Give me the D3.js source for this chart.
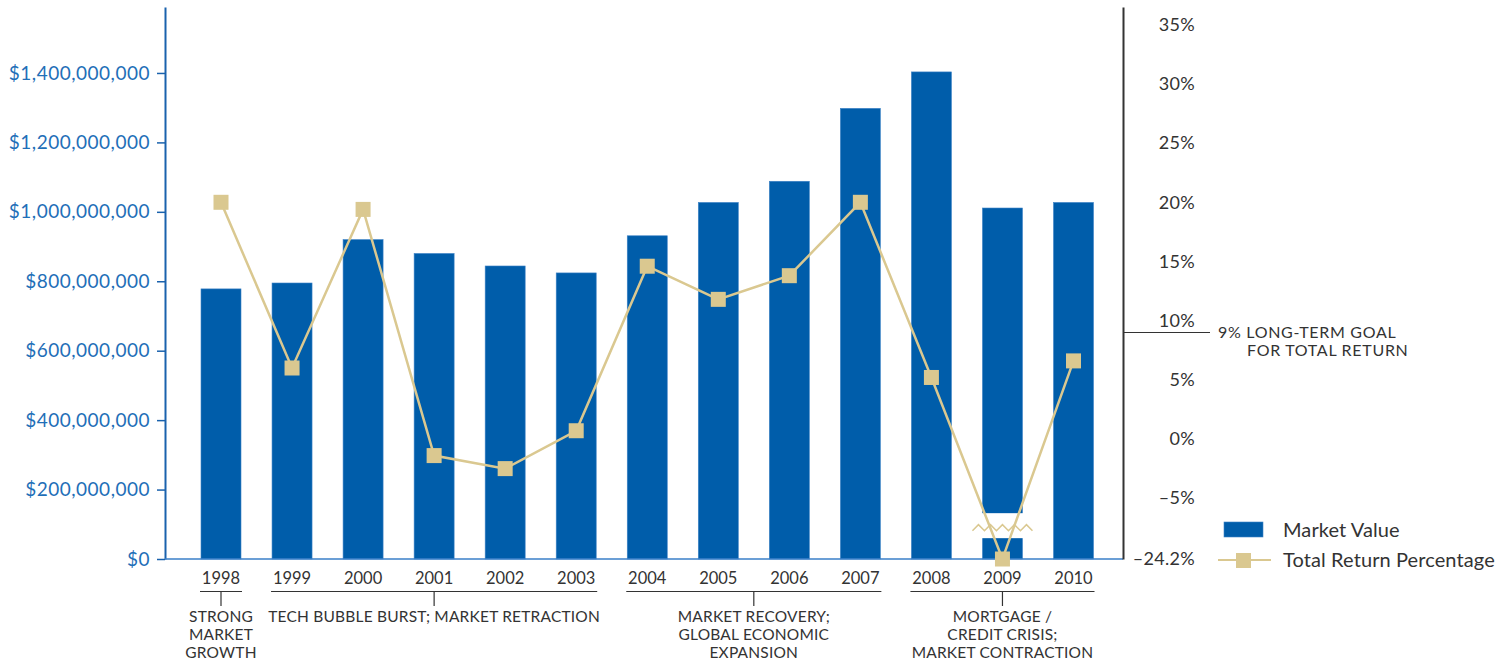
<!DOCTYPE html>
<html>
<head>
<meta charset="utf-8">
<script src="https://cdn.jsdelivr.net/npm/d3@7"></script>
<style>
  body { margin: 0; background: #fff; }
  svg text { font-family: Lato, 'Noto Sans', sans-serif; }
</style>
</head>
<body>
<script>
const years = ['1998', '1999', '2000', '2001', '2002', '2003', '2004', '2005', '2006', '2007', '2008', '2009', '2010'];
const marketValues = [778e6, 795e6, 920e6, 880e6, 844e6, 824e6, 931e6, 1027e6, 1088e6, 1298e6, 1403e6, 1011e6, 1027e6];
const totalReturns = [20.0, 6.0, 19.4, -1.4, -2.5, 0.7, 14.6, 11.8, 13.8, 20.0, 5.2, -24.2, 6.6];

const valueTicks = [0, 200e6, 400e6, 600e6, 800e6, 1000e6, 1200e6, 1400e6];
const returnTicks = [-24.2, -5, 0, 5, 10, 15, 20, 25, 30, 35];
const goalReturn = 9;
const goalLines = ['9% LONG-TERM GOAL', 'FOR TOTAL RETURN'];

// 2009 bar is drawn with a scale break
const breakYear = '2009';
const breakRange = [60e6, 132e6];

const periodFirst = ['1998', '1999', '2004', '2008'];
const periodLast = ['1998', '2003', '2007', '2010'];
const periodNames = [
  ['STRONG', 'MARKET', 'GROWTH'],
  ['TECH BUBBLE BURST; MARKET RETRACTION'],
  ['MARKET RECOVERY;', 'GLOBAL ECONOMIC', 'EXPANSION'],
  ['MORTGAGE /', 'CREDIT CRISIS;', 'MARKET CONTRACTION']
];

const legendNames = ['Market Value', 'Total Return Percentage'];

const width = 1512;
const height = 664;
const plotLeft = 165;
const plotRight = 1123;
const plotTop = 7;
const plotBottom = 559;
const barWidth = 40;

const blue = '#005daa';
const tan = '#dac890';
const ink = '#333333';

const svg = d3.select('body')
  .append('svg')
  .attr('width', width)
  .attr('height', height);

const x = d3.scalePoint()
  .domain(years)
  .range([221, 1073.5]);

const yValue = d3.scaleLinear()
  .domain([0, 1590e6])
  .range([plotBottom, plotTop]);

const yReturn = d3.scaleLinear()
  .domain([-24.2, -5, 36.5])
  .range([plotBottom, 498.2, plotTop]);

// bars
svg.append('g')
  .selectAll('rect')
  .data(years)
  .enter()
  .append('rect')
  .attr('x', (d) => x(d) - barWidth / 2)
  .attr('y', (d, i) => yValue(marketValues[i]))
  .attr('width', barWidth)
  .attr('height', (d, i) => plotBottom - yValue(marketValues[i]))
  .attr('fill', blue)
  .attr('stroke', '#3d82c6')
  .attr('stroke-width', 0.6);

// break in the 2009 bar
const bx = x(breakYear);
svg.append('rect')
  .attr('x', bx - barWidth / 2 - 1)
  .attr('y', yValue(breakRange[1]))
  .attr('width', barWidth + 2)
  .attr('height', yValue(breakRange[0]) - yValue(breakRange[1]))
  .attr('fill', '#fff');

const zigY = yValue((breakRange[0] + breakRange[1]) / 2) + 2;
const zig = d3.range(0, 11).map((k) => [bx - 30 + k * 6, zigY + (k % 2 === 0 ? 3 : -3)]);
svg.append('path')
  .attr('d', d3.line()(zig))
  .attr('fill', 'none')
  .attr('stroke', tan)
  .attr('stroke-width', 1.5);

// left axis
const leftAxis = d3.axisLeft(yValue)
  .tickValues(valueTicks)
  .tickFormat(d3.format('$,'))
  .tickSize(8)
  .tickSizeOuter(0)
  .tickPadding(7);

const gl = svg.append('g')
  .attr('transform', 'translate(' + plotLeft + ',0)')
  .call(leftAxis);
gl.select('.domain').attr('stroke', '#1a62ad').attr('stroke-width', 2);
gl.selectAll('.tick line').attr('stroke', '#1a62ad').attr('stroke-width', 1.5);
gl.selectAll('.tick text')
  .attr('fill', '#1f6fb8')
  .attr('font-size', 19)
  .attr('letter-spacing', 0.5)
  .style('font-family', 'Lato, sans-serif');

// baseline
svg.append('line')
  .attr('x1', plotLeft)
  .attr('x2', plotRight)
  .attr('y1', plotBottom)
  .attr('y2', plotBottom)
  .attr('stroke', '#3a7fc8')
  .attr('stroke-width', 1.5);

// right axis
const rightAxis = d3.axisRight(yReturn)
  .tickValues(returnTicks)
  .tickFormat((d) => (d < 0 ? '\u2013' : '') + Math.abs(d) + '%')
  .tickSize(0)
  .tickSizeOuter(0)
  .tickPadding(72);

const gr = svg.append('g')
  .attr('transform', 'translate(' + plotRight + ',0)')
  .call(rightAxis);
gr.select('.domain').attr('stroke', ink).attr('stroke-width', 2);
gr.selectAll('.tick text')
  .attr('text-anchor', 'end')
  .attr('fill', ink)
  .attr('font-size', 18)
  .attr('letter-spacing', 0.3)
  .style('font-family', 'Lato, sans-serif');

// goal marker
svg.append('line')
  .attr('x1', plotRight)
  .attr('x2', plotRight + 87)
  .attr('y1', yReturn(goalReturn))
  .attr('y2', yReturn(goalReturn))
  .attr('stroke', ink)
  .attr('stroke-width', 1.2);

svg.append('g')
  .selectAll('text')
  .data(goalLines)
  .enter()
  .append('text')
  .attr('x', (d, i) => i === 0 ? plotRight + 95 : plotRight + 124)
  .attr('y', (d, i) => yReturn(goalReturn) + i * 18)
  .attr('dy', '0.35em')
  .attr('font-size', 16)
  .attr('letter-spacing', 0.7)
  .attr('fill', ink)
  .text((d) => d);

// return line
const line = d3.line()
  .x((d, i) => x(years[i]))
  .y((d) => yReturn(d));

svg.append('path')
  .datum(totalReturns)
  .attr('d', line)
  .attr('fill', 'none')
  .attr('stroke', tan)
  .attr('stroke-width', 2.5);

svg.append('g')
  .selectAll('rect')
  .data(totalReturns)
  .enter()
  .append('rect')
  .attr('x', (d, i) => x(years[i]) - 7.5)
  .attr('y', (d) => yReturn(d) - 7.5)
  .attr('width', 15)
  .attr('height', 15)
  .attr('fill', tan);

// year labels
svg.append('g')
  .selectAll('text')
  .data(years)
  .enter()
  .append('text')
  .attr('x', (d) => x(d))
  .attr('y', 578)
  .attr('dy', '0.35em')
  .attr('text-anchor', 'middle')
  .attr('font-size', 16.5)
  .attr('fill', ink)
  .text((d) => d);

// period brackets
const periods = periodNames.map((names, i) => {
  const x0 = x(periodFirst[i]) - barWidth / 2 - 1;
  const x1 = x(periodLast[i]) + barWidth / 2 + 1;
  return { x0: x0, x1: x1, mid: (x0 + x1) / 2, names: names };
});

const pg = svg.append('g')
  .selectAll('g')
  .data(periods)
  .enter()
  .append('g');

pg.append('line')
  .attr('x1', (d) => d.x0)
  .attr('x2', (d) => d.x1)
  .attr('y1', 591.5)
  .attr('y2', 591.5)
  .attr('stroke', ink)
  .attr('stroke-width', 1.2);

pg.append('line')
  .attr('x1', (d) => d.mid)
  .attr('x2', (d) => d.mid)
  .attr('y1', 591.5)
  .attr('y2', 606)
  .attr('stroke', ink)
  .attr('stroke-width', 1.2);

pg.selectAll('text')
  .data((d) => d.names.map((n) => ({ n: n, mid: d.mid })))
  .enter()
  .append('text')
  .attr('x', (d) => d.mid)
  .attr('y', (d, i) => 617 + i * 17.8)
  .attr('dy', '0.35em')
  .attr('text-anchor', 'middle')
  .attr('font-size', 15.5)
  .attr('letter-spacing', 0.2)
  .attr('fill', ink)
  .text((d) => d.n);

// legend
const legend = svg.append('g');

legend.append('rect')
  .attr('x', 1224)
  .attr('y', 522)
  .attr('width', 39)
  .attr('height', 15)
  .attr('fill', blue)
  .attr('stroke', '#3d82c6')
  .attr('stroke-width', 0.6);

legend.append('line')
  .attr('x1', 1218)
  .attr('x2', 1271)
  .attr('y1', 560)
  .attr('y2', 560)
  .attr('stroke', tan)
  .attr('stroke-width', 2);

legend.append('rect')
  .attr('x', 1236)
  .attr('y', 553)
  .attr('width', 15)
  .attr('height', 15)
  .attr('fill', tan);

legend.selectAll('text')
  .data(legendNames)
  .enter()
  .append('text')
  .attr('x', 1283)
  .attr('y', (d, i) => 530 + i * 30)
  .attr('dy', '0.35em')
  .attr('font-size', 20)
  .attr('letter-spacing', 0.1)
  .attr('fill', ink)
  .text((d) => d);
</script>
</body>
</html>
